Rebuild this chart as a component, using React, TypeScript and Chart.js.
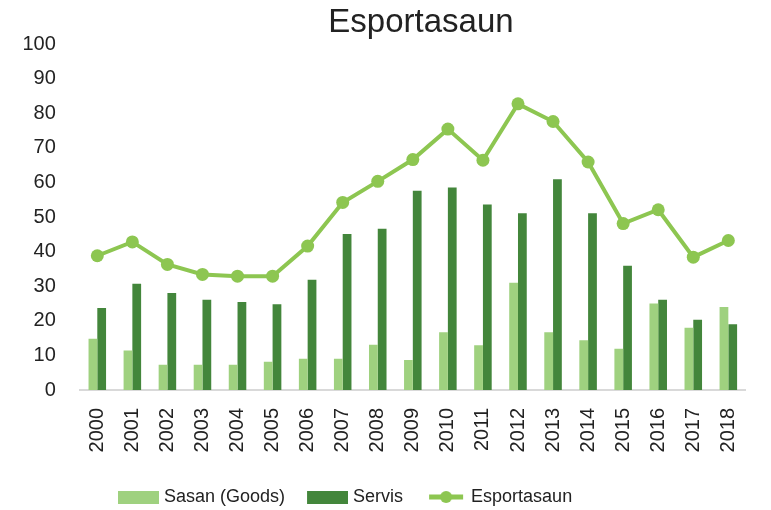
import React, { useEffect, useRef } from 'react';
import { Chart, registerables } from 'chart.js';

Chart.register(...registerables);

const years = ['2000', '2001', '2002', '2003', '2004', '2005', '2006', '2007', '2008', '2009', '2010', '2011', '2012', '2013', '2014', '2015', '2016', '2017', '2018'];
const goods = [14.8, 11.4, 7.3, 7.3, 7.3, 8.2, 9.0, 9.0, 13.1, 8.7, 16.7, 12.9, 31.0, 16.7, 14.4, 11.9, 25.0, 18.0, 24.0];
const services = [23.7, 30.7, 28.0, 26.1, 25.4, 24.8, 31.9, 45.1, 46.6, 57.6, 58.5, 53.6, 51.1, 60.9, 51.1, 35.9, 26.1, 20.3, 19.0];
const exportsTotal = [38.8, 42.8, 36.3, 33.4, 32.9, 32.9, 41.6, 54.2, 60.3, 66.6, 75.4, 66.4, 82.7, 77.6, 65.9, 48.1, 52.1, 38.4, 43.2];

const FONT = '"Liberation Sans", Arial, sans-serif';
const GOODS_COLOR = '#9fd17f';
const SERVICES_COLOR = '#43863b';
const LINE_COLOR = '#8dc651';

function boxIcon(color: string) {
  const c = document.createElement('canvas');
  c.width = 57;
  c.height = 13;
  const ctx = c.getContext('2d')!;
  ctx.fillStyle = color;
  ctx.fillRect(16, 0, 41, 13);
  return c;
}

function lineIcon(color: string) {
  const c = document.createElement('canvas');
  c.width = 57;
  c.height = 14;
  const ctx = c.getContext('2d')!;
  ctx.strokeStyle = color;
  ctx.lineWidth = 5;
  ctx.beginPath();
  ctx.moveTo(20, 7);
  ctx.lineTo(54, 7);
  ctx.stroke();
  ctx.fillStyle = color;
  ctx.beginPath();
  ctx.arc(37, 7, 6, 0, Math.PI * 2);
  ctx.fill();
  return c;
}

export default function App() {
  const ref = useRef<HTMLCanvasElement>(null);

  useEffect(() => {
    if (!ref.current) return;
    const icons = [boxIcon(GOODS_COLOR), boxIcon(SERVICES_COLOR), lineIcon(LINE_COLOR)];

    const nudge = {
      id: 'nudge',
      afterLayout(chart: any) {
        const t = chart.titleBlock;
        if (t) {
          const d = 421 - (t.left + t.right) / 2;
          t.left += d;
          t.right += d;
        }
        const l = chart.legend;
        if (l && l.lineWidths) {
          const pad = 10;
          const start = (l.left + pad + l.right - l.lineWidths[0]) / 2;
          const dx = 106 - start;
          l.left += dx;
          l.right += dx;
          const dy = 497 - (l.top + pad + 9);
          l.top += dy;
          l.bottom += dy;
        }
      },
    };

    const chart = new Chart(ref.current, {
      type: 'bar',
      data: {
        labels: years,
        datasets: [
          {
            type: 'bar',
            label: 'Sasan (Goods)',
            data: goods,
            backgroundColor: GOODS_COLOR,
            order: 1,
            categoryPercentage: 0.5,
            barPercentage: 1,
          },
          {
            type: 'bar',
            label: 'Servis',
            data: services,
            backgroundColor: SERVICES_COLOR,
            order: 1,
            categoryPercentage: 0.5,
            barPercentage: 1,
          },
          {
            type: 'line',
            label: 'Esportasaun',
            data: exportsTotal,
            borderColor: LINE_COLOR,
            backgroundColor: LINE_COLOR,
            borderWidth: 4,
            pointRadius: 6.5,
            pointBackgroundColor: LINE_COLOR,
            pointBorderWidth: 0,
            tension: 0,
            order: 0,
          } as any,
        ],
      },
      options: {
        responsive: false,
        animation: false,
        devicePixelRatio: 1,
        layout: { padding: { left: -1.6, right: 23, top: 0, bottom: 0 } },
        scales: {
          x: {
            grid: { display: false, drawTicks: false },
            border: { color: '#d9d9d9', width: 2 },
            ticks: {
              font: { size: 20, family: FONT },
              color: '#222',
              minRotation: 90,
              maxRotation: 90,
              padding: 18,
              autoSkip: false,
            },
            afterFit: (s: any) => {
              s.height = 82;
            },
          },
          y: {
            min: 0,
            max: 100,
            ticks: { stepSize: 10, font: { size: 20, family: FONT }, color: '#222', padding: 24 },
            grid: { display: false, drawTicks: false },
            border: { display: false },
          },
        },
        plugins: {
          tooltip: { enabled: false },
          title: {
            display: true,
            text: 'Esportasaun',
            fullSize: false,
            color: '#222',
            font: { size: 33, family: FONT, weight: 'normal' },
            padding: { top: 3, bottom: 1.4 },
          },
          legend: {
            position: 'bottom',
            labels: {
              usePointStyle: true,
              pointStyleWidth: 49,
              padding: 10,
              color: '#222',
              font: { size: 18, family: FONT },
              sort: (a: any, b: any) => a.datasetIndex - b.datasetIndex,
              generateLabels: (ch: any) => {
                const items = Chart.defaults.plugins.legend.labels.generateLabels(ch);
                return items.map((it: any) => ({ ...it, pointStyle: icons[it.datasetIndex], fontColor: '#222' }));
              },
            },
          },
        },
      } as any,
      plugins: [nudge],
    });

    return () => chart.destroy();
  }, []);

  return (
    <div style={{ position: 'fixed', left: 0, top: 0, width: 771, height: 510, background: '#fff' }}>
      <canvas ref={ref} width={771} height={510} />
    </div>
  );
}
